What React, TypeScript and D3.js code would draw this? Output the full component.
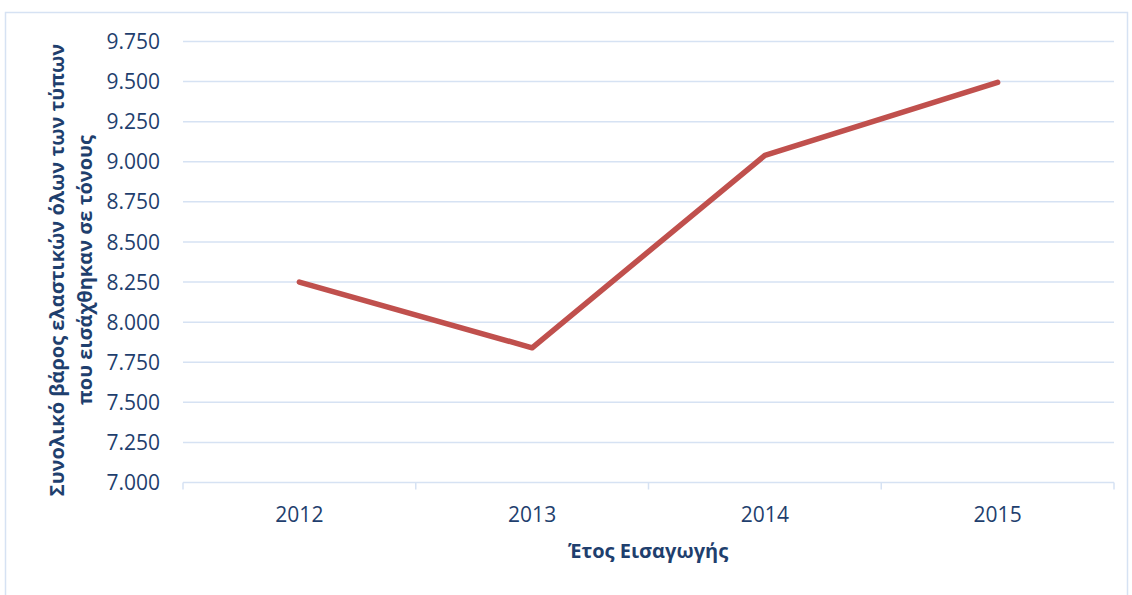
import React, { useEffect, useRef } from "react";
import * as d3 from "d3";

const years = ["2012", "2013", "2014", "2015"];
const tonnes = [8250, 7840, 9040, 9495];
const yTicks = [7000, 7250, 7500, 7750, 8000, 8250, 8500, 8750, 9000, 9250, 9500, 9750];

const width = 1132;
const height = 595;
const textColor = "#1F3F6E";
const gridColor = "#D6E2F3";

const App = () => {
  const svgRef = useRef<SVGSVGElement | null>(null);

  useEffect(() => {
    const svg = d3.select(svgRef.current);
    svg.selectAll("*").remove();

    const left = 183;
    const right = 1114;
    const top = 41.5;
    const bottom = 482.5;

    const x = d3.scaleBand().domain(years).range([left, right]);
    const y = d3.scaleLinear().domain([7000, 9750]).range([bottom, top]);
    const fmt = (v: number) => d3.format(",.0f")(v).replace(",", ".");

    // outer frame
    svg
      .append("rect")
      .attr("x", 5.5)
      .attr("y", 12.5)
      .attr("width", 1122)
      .attr("height", 600)
      .attr("fill", "#fff")
      .attr("stroke", gridColor)
      .attr("stroke-width", 1.5);

    // gridlines
    svg
      .append("g")
      .selectAll("line")
      .data(yTicks.slice(1))
      .join("line")
      .attr("x1", left)
      .attr("x2", right)
      .attr("y1", (d) => y(d))
      .attr("y2", (d) => y(d))
      .attr("stroke", gridColor)
      .attr("stroke-width", 1.5);

    // y labels
    svg
      .append("g")
      .selectAll("text")
      .data(yTicks)
      .join("text")
      .attr("x", 160)
      .attr("y", (d) => y(d))
      .attr("dy", "0.36em")
      .attr("text-anchor", "end")
      .attr("fill", textColor)
      .style("font-size", "21px")
      .text((d) => fmt(d));

    // x axis
    const xAxis = svg.append("g");
    xAxis
      .append("line")
      .attr("x1", left)
      .attr("x2", right)
      .attr("y1", bottom)
      .attr("y2", bottom)
      .attr("stroke", gridColor)
      .attr("stroke-width", 1.5);
    const edges = years.map((d) => x(d) as number).concat([right]);
    xAxis
      .selectAll("line.tick")
      .data(edges)
      .join("line")
      .attr("class", "tick")
      .attr("x1", (d) => d)
      .attr("x2", (d) => d)
      .attr("y1", bottom)
      .attr("y2", bottom + 7)
      .attr("stroke", gridColor)
      .attr("stroke-width", 1.5);
    xAxis
      .selectAll("text")
      .data(years)
      .join("text")
      .attr("x", (d) => (x(d) as number) + x.bandwidth() / 2)
      .attr("y", 522)
      .attr("text-anchor", "middle")
      .attr("fill", textColor)
      .style("font-size", "21px")
      .text((d) => d);

    // line
    const line = d3
      .line<number>()
      .x((_, i) => (x(years[i]) as number) + x.bandwidth() / 2)
      .y((d) => y(d));
    svg
      .append("path")
      .datum(tonnes)
      .attr("d", line)
      .attr("fill", "none")
      .attr("stroke", "#C0504D")
      .attr("stroke-width", 5.5)
      .attr("stroke-linecap", "round")
      .attr("stroke-linejoin", "round");

    // axis titles
    svg
      .append("text")
      .attr("x", 648)
      .attr("y", 558)
      .attr("text-anchor", "middle")
      .attr("fill", textColor)
      .style("font-size", "20px")
      .style("font-weight", "bold")
      .text("Έτος Εισαγωγής");

    const yTitle = svg
      .append("text")
      .attr("transform", "translate(0,270) rotate(-90)")
      .attr("text-anchor", "middle")
      .attr("fill", textColor)
      .style("font-size", "20px")
      .style("font-weight", "bold");
    yTitle.append("tspan").attr("x", 0).attr("y", 64).text("Συνολικό βάρος ελαστικών όλων των τύπων");
    yTitle.append("tspan").attr("x", 0).attr("y", 92).text("που εισάχθηκαν σε τόνους");
  }, []);

  return (
    <svg
      ref={svgRef}
      width={width}
      height={height}
      style={{ position: "absolute", left: 0, top: 0, fontFamily: "'Open Sans', sans-serif" }}
    />
  );
};

export default App;
